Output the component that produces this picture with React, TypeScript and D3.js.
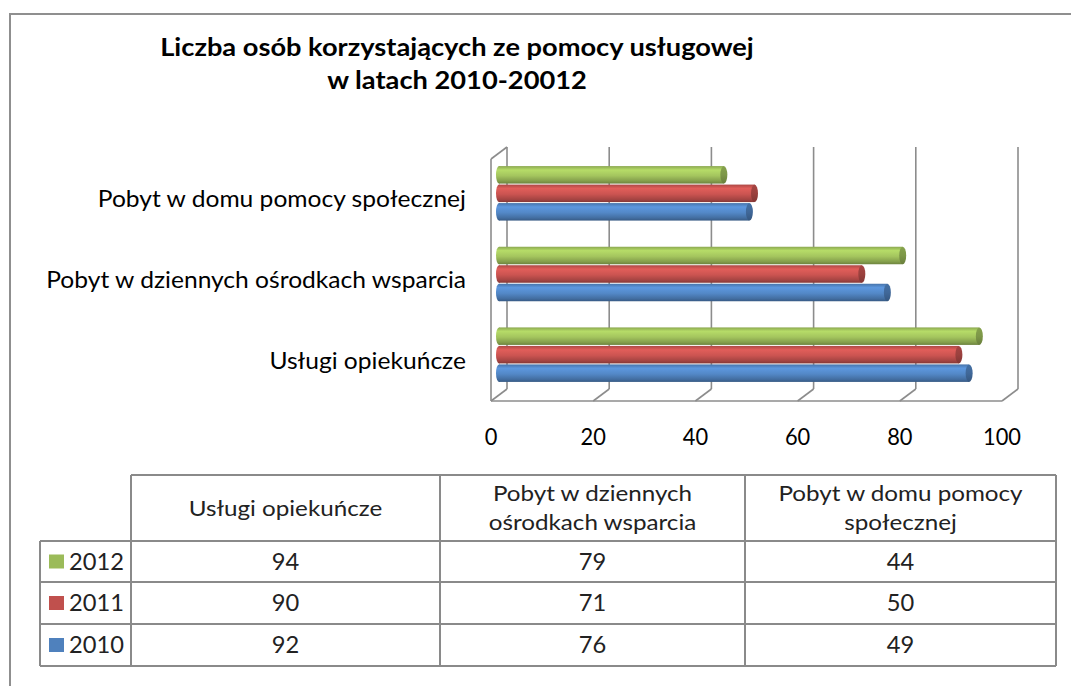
import React from 'react';
import * as d3 from 'd3';

const titleLines = ["Liczba osób korzystających ze pomocy usługowej", "w latach 2010-20012"];
// categories from top to bottom in the chart
const categories = ["Pobyt w domu pomocy społecznej", "Pobyt w dziennych ośrodkach wsparcia", "Usługi opiekuńcze"];
// table column order
const tableColumns = ["Usługi opiekuńcze", "Pobyt w dziennych ośrodkach wsparcia", "Pobyt w domu pomocy społecznej"];
const tableHeaderLines = [["Usługi opiekuńcze"], ["Pobyt w dziennych", "ośrodkach wsparcia"], ["Pobyt w domu pomocy", "społecznej"]];
const years = ["2012", "2011", "2010"];
const values2012 = [94, 79, 44];
const values2011 = [90, 71, 50];
const values2010 = [92, 76, 49];
const seriesValues = [values2012, values2011, values2010];
const seriesColors = ["#9BBB59", "#C0504D", "#4F81BD"];
const xTicks = [0, 20, 40, 60, 80, 100];

const FONT = "Lato, 'Open Sans', sans-serif";
const GRID = "#8c8c8c";

function SText(props: { x: number; y: number; sx?: number; anchor?: string; size: number; weight?: string; fill?: string; children: React.ReactNode }) {
  const { x, y, sx = 1, anchor = 'start', size, weight = 'normal', fill = '#000', children } = props;
  return (
    <text transform={`translate(${x},${y}) scale(${sx},1)`} dy="0.35em" textAnchor={anchor} fontSize={size} fontWeight={weight} fill={fill}>{children}</text>
  );
}

export default function App() {
  // 3D plot geometry: front plane and depth offset
  const front = { left: 491, right: 1002, top: 159, bottom: 401 };
  const dx = 16, dy = -12;
  const xFront = d3.scaleLinear().domain([0, 100]).range([front.left, front.right]);
  const xBack = (v: number) => xFront(v) + dx;
  const xMid = (v: number) => xFront(v) + dx / 2;
  const yCat = d3.scaleBand<string>().domain(categories).range([front.top + dy / 2, front.bottom + dy / 2]).padding(0);
  const ySer = d3.scaleBand<string>().domain(years).range([-27.75, 27.75]).padding(0);
  const barH = 17.5;

  // table geometry
  const colX = [131, 440, 745, 1056];
  const legendLeft = 40;
  const headerTop = 475;
  const rowY = [541, 582, 624, 666];

  return (
    <svg width={1071} height={686} style={{ position: 'absolute', left: 0, top: 0, background: '#fff' }} fontFamily={FONT}>
      <defs>
        {seriesColors.map((c, i) => {
          const base = d3.color(c)!;
          return (
            <React.Fragment key={i}>
              <linearGradient id={`body${i}`} x1="0" y1="0" x2="0" y2="1">
                <stop offset="0" stopColor={base.darker(0.3).formatHex()} />
                <stop offset="0.22" stopColor={base.brighter(0.45).formatHex()} />
                <stop offset="0.55" stopColor={base.brighter(0.15).formatHex()} />
                <stop offset="0.85" stopColor={base.darker(0.45).formatHex()} />
                <stop offset="1" stopColor={base.darker(1.0).formatHex()} />
              </linearGradient>
              <linearGradient id={`cap${i}`} x1="0" y1="0" x2="0" y2="1">
                <stop offset="0" stopColor={base.darker(0.4).formatHex()} />
                <stop offset="0.5" stopColor={base.darker(0.6).formatHex()} />
                <stop offset="1" stopColor={base.darker(1.1).formatHex()} />
              </linearGradient>
            </React.Fragment>
          );
        })}
      </defs>

      {/* outer frame */}
      <path d="M10,700 V14 H1080" fill="none" stroke="#8f8f8f" strokeWidth={2} />

      {/* title */}
      {titleLines.map((t, i) => (
        <SText key={i} x={457} y={47 + i * 33} anchor="middle" weight="bold" size={25} sx={1.09}>{t}</SText>
      ))}

      {/* walls and gridlines */}
      <g stroke={GRID} strokeWidth={1.6} fill="none">
        {xTicks.map(v => (
          <g key={v}>
            <line x1={xBack(v)} y1={front.top + dy} x2={xBack(v)} y2={front.bottom + dy} />
            <line x1={xBack(v)} y1={front.bottom + dy} x2={xFront(v)} y2={front.bottom} />
          </g>
        ))}
        <line x1={xFront(0)} y1={front.bottom} x2={xFront(100)} y2={front.bottom} />
        <line x1={xFront(0)} y1={front.top} x2={xFront(0)} y2={front.bottom} />
        <line x1={xFront(0)} y1={front.top} x2={xBack(0)} y2={front.top + dy} />
      </g>

      {/* bars (cylinders) */}
      {categories.map(cat => {
        const ci = tableColumns.indexOf(cat);
        const cy0 = yCat(cat)! + yCat.bandwidth() / 2;
        return (
          <g key={cat}>
            {years.map((yr, si) => {
              const v = seriesValues[si][ci];
              const cy = cy0 + ySer(yr)! + ySer.bandwidth() / 2;
              const x0 = xMid(0);
              const x1 = xMid(v);
              return (
                <g key={yr}>
                  <ellipse cx={x0} cy={cy} rx={3} ry={barH / 2} fill={`url(#body${si})`} />
                  <rect x={x0} y={cy - barH / 2} width={x1 - x0} height={barH} fill={`url(#body${si})`} />
                  <ellipse cx={x1} cy={cy} rx={3.5} ry={barH / 2} fill={`url(#cap${si})`} />
                </g>
              );
            })}
          </g>
        );
      })}

      {/* category labels */}
      {categories.map(cat => (
        <SText key={cat} x={466} y={yCat(cat)! - dy / 2 + yCat.bandwidth() / 2} anchor="end" size={23} sx={1.07}>{cat}</SText>
      ))}

      {/* x axis labels */}
      {xTicks.map(v => (
        <SText key={v} x={xFront(v)} y={437} anchor="middle" size={23} sx={0.95}>{v}</SText>
      ))}

      {/* data table */}
      <g stroke="#8a8a8a" strokeWidth={2} fill="none">
        <line x1={colX[0]} y1={headerTop} x2={colX[3]} y2={headerTop} />
        {rowY.map((y, i) => (
          <line key={i} x1={legendLeft} y1={y} x2={colX[3]} y2={y} />
        ))}
        {colX.map((x, i) => (
          <line key={i} x1={x} y1={headerTop} x2={x} y2={rowY[3]} />
        ))}
        <line x1={legendLeft} y1={rowY[0]} x2={legendLeft} y2={rowY[3]} />
      </g>
      {tableHeaderLines.map((lines, ci) => {
        const cx = (colX[ci] + colX[ci + 1]) / 2;
        const mid = (headerTop + rowY[0]) / 2;
        return lines.map((l, li) => (
          <SText key={`${ci}-${li}`} x={cx} y={mid + (li - (lines.length - 1) / 2) * 29} anchor="middle" size={22} sx={1.1} fill="#222">{l}</SText>
        ));
      })}
      {years.map((yr, si) => {
        const yc = (rowY[si] + rowY[si + 1]) / 2;
        return (
          <g key={yr}>
            <rect x={49} y={yc - 7} width={15} height={14} fill={seriesColors[si]} />
            <SText x={69} y={yc} size={23} sx={1.03} fill="#222">{yr}</SText>
            {seriesValues[si].map((v, ci) => (
              <SText key={ci} x={(colX[ci] + colX[ci + 1]) / 2} y={yc} anchor="middle" size={23} sx={1.03} fill="#222">{v}</SText>
            ))}
          </g>
        );
      })}
    </svg>
  );
}
